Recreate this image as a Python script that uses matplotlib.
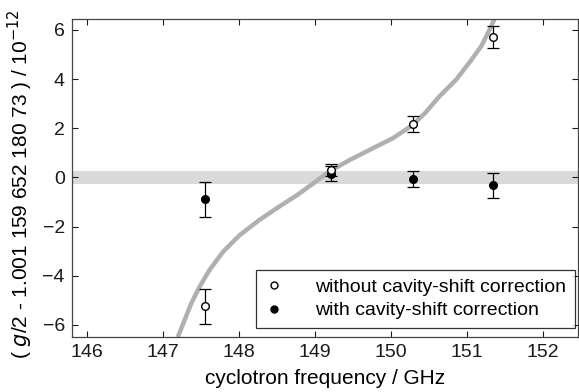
import matplotlib.pyplot as plt
import numpy as np

plt.rcParams['font.family'] = ['Liberation Sans', 'DejaVu Sans']

# measured data points (frequency in GHz)
freq = [147.55, 149.21, 150.29, 151.34]
g_uncorr = [-5.25, 0.30, 2.16, 5.70]
err_uncorr = [0.72, 0.25, 0.32, 0.44]
g_corr = [-0.90, 0.15, -0.08, -0.33]
err_corr = [0.73, 0.30, 0.33, 0.50]

# cavity-shift curve
curve_x = [147.195, 147.283, 147.372, 147.48, 147.61, 147.79, 148.01, 148.27,
           148.53, 148.77, 148.98, 149.19, 149.46, 149.74, 150.03, 150.29,
           150.45, 150.64, 150.86, 151.03, 151.19, 151.30, 151.38]
curve_y = [-6.50, -5.82, -5.13, -4.46, -3.78, -3.03, -2.35, -1.73,
           -1.19, -0.71, -0.24, 0.24, 0.71, 1.15, 1.60, 2.14,
           2.62, 3.30, 3.98, 4.66, 5.34, 6.02, 6.56]

# final value uncertainty band
band_lo, band_hi = -0.27, 0.27

fig = plt.figure(figsize=(5.79, 3.92), dpi=100)
ax = fig.add_axes([0.124, 0.14, 0.874, 0.812])

ax.axhspan(band_lo, band_hi, color='#dadada', lw=0, zorder=0)
ax.plot(curve_x, curve_y, color='#b0b0b0', lw=3.2, solid_capstyle='butt',
        solid_joinstyle='round', zorder=1)

ax.errorbar(freq, g_corr, yerr=err_corr, fmt='o', color='black', mfc='black',
            ms=5.5, capsize=4, elinewidth=0.9, capthick=0.9, zorder=3,
            label='with cavity-shift correction')
ax.errorbar(freq, g_uncorr, yerr=err_uncorr, fmt='o', color='black', mfc='white',
            ms=5.5, capsize=4, elinewidth=0.9, capthick=0.9, zorder=4,
            label='without cavity-shift correction')

ax.set_xlim(145.80, 152.46)
ax.set_ylim(-6.5, 6.45)
ax.set_xticks([146, 147, 148, 149, 150, 151, 152])
ax.set_yticks([-6, -4, -2, 0, 2, 4, 6])

ax.tick_params(direction='in', top=True, right=True, length=4, width=0.8,
               labelsize=14, colors='#1a1a1a', pad=5)
for sp in ax.spines.values():
    sp.set_color('#444444')
    sp.set_linewidth(0.9)

ax.set_xlabel('cyclotron frequency / GHz', fontsize=15, labelpad=6)
ax.set_ylabel(r'( $\it{g}$/2 - 1.001 159 652 180 73 ) / 10$^{-12}$', fontsize=15)
ax.yaxis.set_label_coords(-0.072, 0.481)

handles, labels = ax.get_legend_handles_labels()
handles = [h[0] for h in handles[::-1]]
leg = ax.legend(handles, labels[::-1], loc='lower right', bbox_to_anchor=(0.994, 0.028),
                fontsize=14, frameon=True, fancybox=False, edgecolor='black',
                handlelength=1.0, borderpad=0.45, labelspacing=0.3,
                handletextpad=1.6, borderaxespad=0.0)
leg.get_frame().set_linewidth(0.9)
for h in leg.legend_handles:
    h.set_markersize(5)

fig.savefig('out.png', dpi=100)
